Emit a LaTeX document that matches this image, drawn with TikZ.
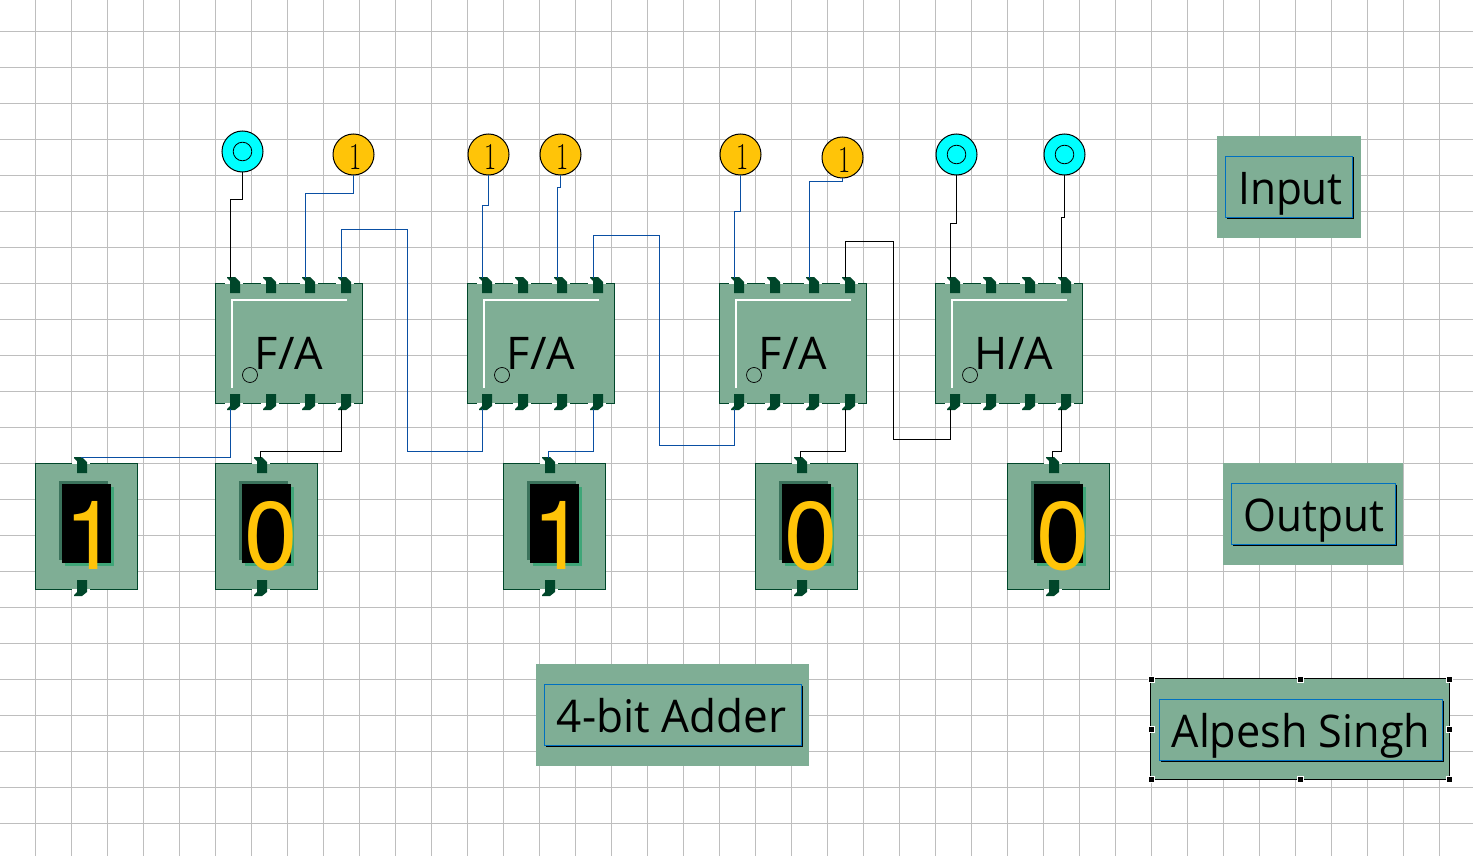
\documentclass[tikz,border=0pt]{standalone}
\usepackage{fontspec}
\newfontfamily\labelfont{Open Sans}
\newfontfamily\digitfont{TeX Gyre Heros}

\definecolor{ccgrid}{RGB}{190,190,190}
\definecolor{ccbody}{RGB}{127,174,149}
\definecolor{ccpin}{RGB}{0,70,42}
\definecolor{ccwire}{RGB}{10,79,163}
\definecolor{ccorange}{RGB}{255,196,8}
\definecolor{cccyan}{RGB}{0,255,255}
\definecolor{ccframe}{RGB}{0,112,192}
\definecolor{ccshadedark}{RGB}{59,115,92}
\definecolor{ccshadelight}{RGB}{63,166,120}

\tikzset{
  chipbox/.style={draw=ccpin, fill=ccbody, line width=1pt, minimum width=147pt, minimum height=119.5pt, inner sep=0pt, outer sep=0pt},
  dispbox/.style={draw=ccpin, fill=ccbody, line width=1pt, minimum width=101.5pt, minimum height=125.5pt, inner sep=0pt, outer sep=0pt},
  chiptext/.style={anchor=base, font=\labelfont\fontsize{45}{45}\selectfont, inner sep=0pt},
  digittext/.style={anchor=base, font=\digitfont\fontsize{96}{96}\selectfont, text=ccorange, inner sep=0pt},
  inhigh/.style={circle, draw=black, fill=ccorange, line width=1pt, minimum size=41pt, inner sep=0pt, outer sep=0.5pt},
  inone/.style={anchor=base, font=\fontsize{38}{38}\selectfont, inner sep=0pt, xscale=0.7},
  inprobe/.style={circle, draw=black, fill=cccyan, line width=1pt, minimum size=41pt, inner sep=0pt, outer sep=0.5pt,
    path picture={\draw[line width=0.8pt] (path picture bounding box.center) circle (9.3pt);}},
  wireblue/.style={draw=ccwire, line width=1.2pt},
  wireblack/.style={draw=black, line width=1.2pt},
  handle/.style={draw=white, fill=black, line width=0.8pt, minimum size=6pt, inner sep=0pt}
}

% pin with its tip at the top
\newcommand{\pinup}[2]{
  \fill[white] (#1-5,#2+5.5) rectangle (#1+13,#2+7);
  \fill[ccpin] (#1-3,#2) -- ++(8,0) -- ++(5,5) -- ++(0,11) -- ++(-10,0) -- ++(0,-12) -- ++(-3,-3) -- cycle;
}
% pin with its tip at the bottom
\newcommand{\pindown}[2]{
  \fill[white] (#1-5,#2+8.6) rectangle (#1+13,#2+10);
  \fill[ccpin] (#1,#2) -- ++(10,0) -- ++(0,12) -- ++(-5,4) -- ++(-8,0) -- ++(0,-1) -- ++(3,-3) -- cycle;
}
% adder block: name, left edge
\newcommand{\adderblock}[2]{
  \node[chipbox] (#1) at (#2+74,343.3) {};
  \draw[white, line width=2pt] (#2+16.5,388) |- (#2+132,300);
  \draw[line width=0.7pt] (#2+35,375) circle (7.5pt);
  \foreach \px/\pn in {15/1,51/2,90/3,126/4} {
    \pinup{#2+\px}{277}
    \pindown{#2+\px}{394}
    \coordinate (#1t\pn) at (#2+\px+0.5,278);
    \coordinate (#1b\pn) at (#2+\px+0.5,409);
  }
}
% seven segment display: name, left edge, digit
\newcommand{\displayblock}[3]{
  \node[dispbox] (#1) at (#2+51.4,526.3) {};
  \fill[ccshadedark] (#2+24,481) rectangle (#2+73,560);
  \fill[ccshadelight] (#2+30,487) rectangle (#2+79,566);
  \fill[black] (#2+27,484) rectangle (#2+76,563);
  \pinup{#2+42}{457}
  \pindown{#2+42}{580}
  \coordinate (#1t) at (#2+45.5,457.5);
  \node[digittext] (#1d) at (#2+56,569) {#3};
}
% caption frame: left, top, right, bottom
\newcommand{\captionframe}[4]{
  \draw[white, line width=1pt] (#1,#2) -- (#1,#4);
  \draw[black, line width=1pt] (#3+1,#2+1) -- (#3+1,#4+1) -- (#1+1,#4+1);
  \draw[ccframe, line width=1pt] (#1,#2) rectangle (#3,#4);
}

\begin{document}
\begin{tikzpicture}[x=1pt, y=-1pt]

  \useasboundingbox[fill=white] (0,0) rectangle (1473,856);

  % Grid
  \foreach \gx in {35.5,71.5,...,1439.5} \draw[ccgrid, line width=1.2pt] (\gx,0) -- (\gx,856);
  \foreach \gy in {31.5,67.5,...,823.5} \draw[ccgrid, line width=1.2pt] (0,\gy) -- (1473,\gy);

  % Adders
  \adderblock{fa1}{215}
  \adderblock{fa2}{467}
  \adderblock{fa3}{719}
  \adderblock{ha1}{935}
  \node[chiptext] (fa1txt) at (289,369) {F/A};
  \node[chiptext] (fa2txt) at (541,369) {F/A};
  \node[chiptext] (fa3txt) at (793,369) {F/A};
  \node[chiptext] (ha1txt) at (1014,369) {H/A};

  % Displays
  \displayblock{dsp1}{35}{1}
  \displayblock{dsp2}{215}{0}
  \displayblock{dsp3}{503}{1}
  \displayblock{dsp4}{755}{0}
  \displayblock{dsp5}{1007}{0}

  % Inputs
  \node[inprobe] (in1) at (242.5,151.5) {};
  \node[inhigh] (in2) at (353.5,154.5) {};
  \node[inhigh] (in3) at (488.5,154.5) {};
  \node[inhigh] (in4) at (560.5,154.5) {};
  \node[inhigh] (in5) at (740.5,154.5) {};
  \node[inhigh] (in6) at (842.5,157.5) {};
  \node[inprobe] (in7) at (956.5,154.5) {};
  \node[inprobe] (in8) at (1064.5,154.5) {};
  \node[inone] (in2one) at (356,170) {1};
  \node[inone] (in3one) at (491,170) {1};
  \node[inone] (in4one) at (563,170) {1};
  \node[inone] (in5one) at (743,170) {1};
  \node[inone] (in6one) at (845,173) {1};

  % Input wires
  \draw[wireblack] (in1.south) -- ++(0,27) -| (fa1t1);
  \draw[wireblue] (in2.south) -- ++(0,18) -| (fa1t3);
  \draw[wireblue] (in3.south) -- ++(0,30) -| (fa2t1);
  \draw[wireblue] (in4.south) -- ++(0,12) -| (fa2t3);
  \draw[wireblue] (in5.south) -- ++(0,36) -| (fa3t1);
  \draw[wireblue] (in6.south) -- ++(0,3) -| (fa3t3);
  \draw[wireblack] (in7.south) -- ++(0,48) -| (ha1t1);
  \draw[wireblack] (in8.south) -- ++(0,42) -| (ha1t4);

  % Carry wires
  \draw[wireblue] (fa1t4) |- (407.5,229.5) |- (482.5,451.5) -- (fa2b1);
  \draw[wireblue] (fa2t4) |- (659.5,235.5) |- (734.5,445.5) -- (fa3b1);
  \draw[wireblack] (fa3t4) |- (893.5,241.5) |- (950.5,439.5) -- (ha1b1);

  % Sum wires
  \draw[wireblue] (fa1b1) |- (dsp1t);
  \draw[wireblack] (fa1b4) -- ++(0,42.5) -| (dsp2t);
  \draw[wireblue] (fa2b4) -- ++(0,42.5) -| (dsp3t);
  \draw[wireblack] (fa3b4) -- ++(0,42.5) -| (dsp4t);
  \draw[wireblack] (ha1b4) -- ++(0,42.5) -| (dsp5t);

  % Captions
  \fill[ccbody] (1217,136) rectangle (1361,238);
  \captionframe{1225.5}{156.5}{1352.5}{217.5}
  \node[chiptext, xscale=0.94] (inputcap) at (1290.5,204.2) {Input};

  \fill[ccbody] (1223,463) rectangle (1403,565);
  \captionframe{1231.5}{483.5}{1395.5}{544.5}
  \node[chiptext, xscale=0.94] (outputcap) at (1314,531) {Output};

  \fill[ccbody] (536,664) rectangle (809,766);
  \captionframe{544.5}{684.5}{801.5}{745.5}
  \node[chiptext, xscale=0.98] (addercap) at (671.5,732) {4-bit Adder};

  \draw[fill=ccbody, line width=1pt] (1150.5,678.5) rectangle (1449.5,779.5);
  \captionframe{1159.5}{699.5}{1442.5}{760.5}
  \node[chiptext, xscale=0.96] (namecap) at (1301,747.5) {Alpesh Singh};

  % Selection handles
  \node[handle] (h1) at (1151,679) {};
  \node[handle] (h2) at (1300,679) {};
  \node[handle] (h3) at (1449,679) {};
  \node[handle] (h4) at (1151,729) {};
  \node[handle] (h5) at (1449,729) {};
  \node[handle] (h6) at (1151,779) {};
  \node[handle] (h7) at (1300,779) {};
  \node[handle] (h8) at (1449,779) {};

\end{tikzpicture}
\end{document}
